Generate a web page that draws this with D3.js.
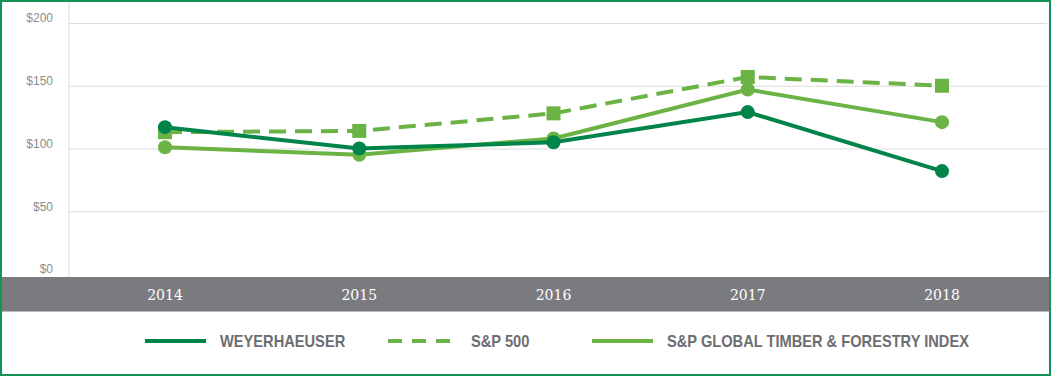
<!DOCTYPE html>
<html>
<head>
<meta charset="utf-8">
<script src="https://cdn.jsdelivr.net/npm/d3@7"></script>
<style>
  body { margin: 0; background: #fff; }
  svg { display: block; }
</style>
</head>
<body>
<svg id="chart"></svg>
<script>
const W = 1051, H = 376;
const years = [2014, 2015, 2016, 2017, 2018];
const weyerhaeuser = [117, 100, 105, 129, 82];
const sp500 = [113, 114, 128, 157, 150];
const timber = [101, 95, 108, 147, 121];
const yTicks = [0, 50, 100, 150, 200];

const DARK = "#00844a", LIGHT = "#6ab344";

const svg = d3.select("#chart").attr("width", W).attr("height", H);

var x = d3.scalePoint()
        .domain(years)
        .range([165, 942]);

var y = d3.scaleLinear()
        .domain([0, 200])
        .range([274, 23]);

// gridlines + y labels
const yAxis = d3.axisLeft(y)
        .tickValues(yTicks)
        .tickSize(-(1047 - 69))
        .tickFormat(d => "$" + d);

const gy = svg.append("g")
        .attr("transform", "translate(69,0)")
        .call(yAxis);
gy.select(".domain").remove();
gy.selectAll(".tick line").attr("stroke", "#dcdcdc").attr("stroke-width", 1);
gy.selectAll(".tick text")
        .attr("x", -16)
        .attr("dy", "-0.1em")
        .attr("fill", "#8c8c8c")
        .style("font-family", "'Liberation Sans', Arial, sans-serif")
        .style("font-size", "12px");
gy.select(".tick:first-of-type line").remove();

svg.append("line")
        .attr("x1", 69).attr("x2", 69)
        .attr("y1", 2).attr("y2", 277)
        .attr("stroke", "#dcdcdc");

// grey year band
svg.append("rect")
        .attr("x", 2).attr("y", 277)
        .attr("width", W - 4).attr("height", 35)
        .attr("fill", "#7a7b7f");
svg.append("line")
        .attr("x1", 2).attr("x2", W - 2)
        .attr("y1", 311.5).attr("y2", 311.5)
        .attr("stroke", "#b9babd");

svg.append("g").selectAll("text")
        .data(years)
        .join("text")
        .attr("x", d => x(d))
        .attr("y", 300)
        .attr("text-anchor", "middle")
        .attr("fill", "#fff")
        .style("font-family", "'DejaVu Serif', 'Liberation Serif', serif")
        .style("font-size", "14px")
        .text(d => d);

// series
const line = d3.line()
        .x((d, i) => x(years[i]))
        .y(d => y(d));

function drawSeries(vals, color, dashed, square) {
    const g = svg.append("g");
    g.append("path")
        .datum(vals)
        .attr("d", line)
        .attr("fill", "none")
        .attr("stroke", color)
        .attr("stroke-width", 4)
        .attr("stroke-dasharray", dashed ? "17,9" : null);
    if (square) {
        g.selectAll("rect").data(vals).join("rect")
            .attr("x", (d, i) => x(years[i]) - 7)
            .attr("y", d => y(d) - 7)
            .attr("width", 14).attr("height", 14)
            .attr("fill", color);
    } else {
        g.selectAll("circle").data(vals).join("circle")
            .attr("cx", (d, i) => x(years[i]))
            .attr("cy", d => y(d))
            .attr("r", 7)
            .attr("fill", color);
    }
}

drawSeries(sp500, LIGHT, true, true);
drawSeries(timber, LIGHT, false, false);
drawSeries(weyerhaeuser, DARK, false, false);

// legend
const legend = [
    {label: "WEYERHAEUSER", color: DARK, dash: null, x: 145},
    {label: "S&P 500", color: LIGHT, dash: "14,10", x: 388},
    {label: "S&P GLOBAL TIMBER & FORESTRY INDEX", color: LIGHT, dash: null, x: 592}
];
const lg = svg.append("g").selectAll("g").data(legend).join("g")
        .attr("transform", d => `translate(${d.x},341)`);
lg.append("line")
        .attr("x1", 0).attr("x2", d => d.dash ? 72 : 61)
        .attr("stroke", d => d.color)
        .attr("stroke-width", 4)
        .attr("stroke-dasharray", d => d.dash);
lg.append("text")
        .attr("transform", d => `translate(${d.dash ? 83 : 75},0) scale(0.915,1)`)
        .attr("dy", "0.36em")
        .attr("fill", "#6d6e71")
        .style("font-family", "'Liberation Sans', Arial, sans-serif")
        .style("font-weight", "bold")
        .style("font-size", "16px")
        .text(d => d.label);

// outer border
svg.append("rect")
        .attr("x", 1).attr("y", 1)
        .attr("width", W - 2).attr("height", H - 2)
        .attr("fill", "none")
        .attr("stroke", "#159256")
        .attr("stroke-width", 2);
</script>
</body>
</html>
